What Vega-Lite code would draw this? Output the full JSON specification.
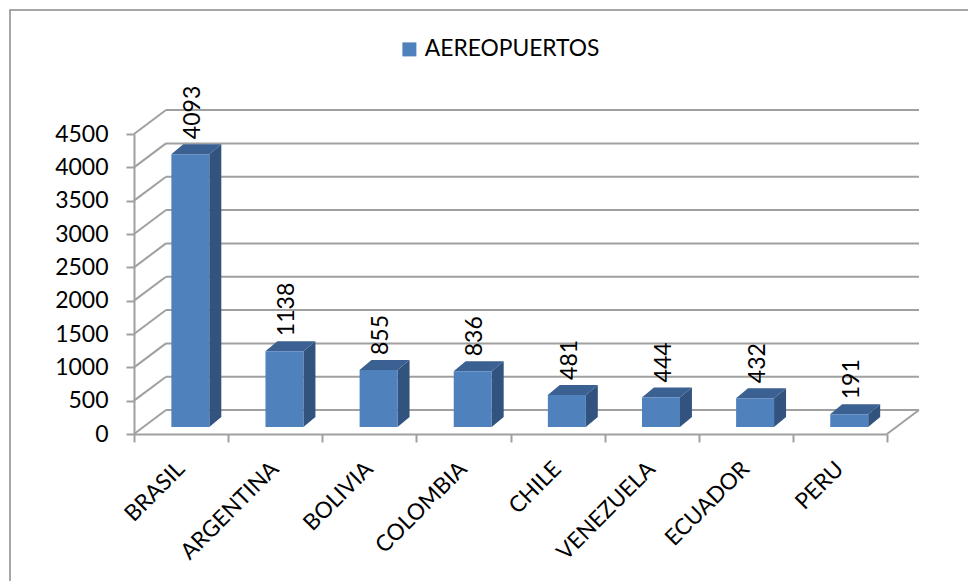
{
  "$schema": "https://vega.github.io/schema/vega-lite/v6.json",
  "autosize": {"type": "none"},
  "padding": {"left": 10, "top": 10, "right": 0, "bottom": 0},
  "width": 964,
  "height": 577,
  "background": "white",
  "view": {"stroke": "#8a8a8a", "strokeWidth": 1.5, "fill": "white"},
  "config": {"font": "Lato", "axis": {"labelColor": "black", "domainColor": "#a0a0a0", "tickColor": "#a0a0a0", "domainWidth": 2, "tickWidth": 2}},
  "datasets": {
    "airports": [
      {"pais": "BRASIL", "aeropuertos": 4093},
      {"pais": "ARGENTINA", "aeropuertos": 1138},
      {"pais": "BOLIVIA", "aeropuertos": 855},
      {"pais": "COLOMBIA", "aeropuertos": 836},
      {"pais": "CHILE", "aeropuertos": 481},
      {"pais": "VENEZUELA", "aeropuertos": 444},
      {"pais": "ECUADOR", "aeropuertos": 432},
      {"pais": "PERU", "aeropuertos": 191}
    ],
    "levels": [
      {"nivel": 0}, {"nivel": 500}, {"nivel": 1000}, {"nivel": 1500}, {"nivel": 2000},
      {"nivel": 2500}, {"nivel": 3000}, {"nivel": 3500}, {"nivel": 4000}, {"nivel": 4500}
    ]
  },
  "layer": [
    {
      "layer": [
        {
          "data": {"name": "levels"},
          "transform": [{"calculate": "datum.nivel + 359", "as": "fondo"}],
          "mark": {"type": "rule", "color": "#a0a0a0", "strokeWidth": 2},
          "encoding": {
            "x": {
              "datum": 0.34,
              "type": "quantitative",
              "scale": {"domain": [0, 8], "range": [124, 877], "nice": false, "zero": false},
              "axis": {"values": [0, 1, 2, 3, 4, 5, 6, 7, 8], "labels": false, "grid": false, "tickSize": 8, "offset": -153, "title": null, "orient": "bottom"}
            },
            "x2": {"datum": 8.34},
            "y": {
              "field": "fondo",
              "type": "quantitative",
              "scale": {"domain": [0, 4500], "range": [424, 124], "nice": false, "zero": false},
              "axis": {"values": [0, 500, 1000, 1500, 2000, 2500, 3000, 3500, 4000, 4500], "format": "d", "grid": false, "tickSize": 8, "offset": -124, "labelPadding": 18, "labelFontSize": 23, "labelDy": 1, "title": null}
            }
          }
        },
        {
          "data": {"name": "levels"},
          "transform": [{"calculate": "datum.nivel + 359", "as": "fondo"}],
          "mark": {"type": "rule", "color": "#a0a0a0", "strokeWidth": 2},
          "encoding": {
            "x": {"datum": 0, "type": "quantitative"},
            "x2": {"datum": 0.34},
            "y": {"field": "nivel", "type": "quantitative"},
            "y2": {"field": "fondo"}
          }
        },
        {
          "data": {"name": "levels"},
          "transform": [{"filter": "datum.nivel === 0"}, {"calculate": "datum.nivel + 359", "as": "fondo"}],
          "mark": {"type": "rule", "color": "#a0a0a0", "strokeWidth": 2},
          "encoding": {
            "x": {"datum": 8, "type": "quantitative"},
            "x2": {"datum": 8.34},
            "y": {"field": "nivel", "type": "quantitative"},
            "y2": {"field": "fondo"}
          }
        },
        {
          "data": {"name": "airports"},
          "transform": [
            {"window": [{"op": "row_number", "as": "n"}]},
            {"calculate": "[0, 1]", "as": "t"},
            {"flatten": ["t"]},
            {"calculate": "datum.n - 1 + 0.8 + datum.t * 0.1275", "as": "xc"},
            {"calculate": "105 + datum.aeropuertos + datum.t * 150", "as": "alto"},
            {"calculate": "105 + datum.t * 150", "as": "base"}
          ],
          "mark": {"type": "area", "color": "#31537E", "opacity": 1},
          "encoding": {
            "x": {"field": "xc", "type": "quantitative"},
            "y": {"field": "alto", "type": "quantitative", "stack": null},
            "y2": {"field": "base"},
            "detail": {"field": "pais"}
          }
        },
        {
          "data": {"name": "airports"},
          "transform": [
            {"window": [{"op": "row_number", "as": "n"}]},
            {"calculate": "[0, 1]", "as": "t"},
            {"flatten": ["t"]},
            {"calculate": "datum.n - 1 + 0.396 + datum.t * 0.1275", "as": "xa"},
            {"calculate": "datum.n - 1 + 0.8 + datum.t * 0.1275", "as": "xb"},
            {"calculate": "105 + datum.aeropuertos + datum.t * 150", "as": "alto"}
          ],
          "mark": {"type": "area", "orient": "horizontal", "color": "#3A6191", "opacity": 1},
          "encoding": {
            "y": {"field": "alto", "type": "quantitative"},
            "x": {"field": "xa", "type": "quantitative", "stack": null},
            "x2": {"field": "xb"},
            "detail": {"field": "pais"}
          }
        }
      ]
    },
    {
      "data": {"name": "airports"},
      "layer": [
        {
          "mark": {"type": "bar", "width": 38, "xOffset": 9.3, "yOffset": -7, "y2Offset": -7},
          "encoding": {
            "x": {
              "field": "pais",
              "type": "nominal",
              "sort": null,
              "scale": {"range": [124, 877], "paddingInner": 0, "paddingOuter": 0},
              "axis": {"orient": "bottom", "domain": false, "ticks": false, "labelAngle": -45, "labelAlign": "right", "labelBaseline": "middle", "labelFontSize": 22.5, "labelPadding": 31, "labelDx": 4, "offset": -153, "title": null, "labelOverlap": false, "labelLimit": 300}
            },
            "y": {"field": "aeropuertos", "type": "quantitative"},
            "y2": {"datum": 0},
            "color": {
              "datum": "AEREOPUERTOS",
              "type": "nominal",
              "scale": {"range": ["#4F81BD"]},
              "legend": {"title": null, "orient": "none", "legendX": 388, "legendY": 28, "symbolType": "square", "symbolSize": 196, "labelFontSize": 22.8, "labelColor": "black", "symbolStrokeWidth": 0, "labelLimit": 400}
            }
          }
        },
        {
          "mark": {"type": "text", "angle": 270, "align": "left", "baseline": "middle", "fontSize": 23, "color": "black", "xOffset": 12, "yOffset": -22},
          "encoding": {
            "x": {"field": "pais", "type": "nominal", "sort": null},
            "y": {"field": "aeropuertos", "type": "quantitative"},
            "text": {"field": "aeropuertos", "type": "quantitative", "format": "d"}
          }
        }
      ]
    }
  ],
  "resolve": {"scale": {"x": "independent"}, "axis": {"x": "independent"}}
}
